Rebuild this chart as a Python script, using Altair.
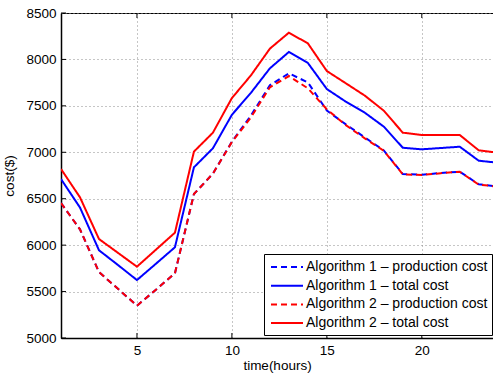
import altair as alt
import pandas as pd

hours = list(range(1, 25))

a1_prod = [6454, 6170, 5710, 5530, 5348, 5520, 5697, 6550, 6770, 7114, 7395, 7722, 7850, 7753,
           7450, 7300, 7160, 7020, 6766, 6758, 6777, 6791, 6655, 6632]
a1_total = [6712, 6405, 5945, 5786, 5624, 5800, 5977, 6838, 7043, 7404, 7640, 7904, 8080, 7962,
            7681, 7545, 7426, 7276, 7049, 7032, 7046, 7060, 6909, 6888]
a2_prod = [6454, 6170, 5710, 5530, 5348, 5520, 5697, 6550, 6770, 7110, 7375, 7700, 7821, 7689,
           7462, 7292, 7150, 7017, 6762, 6755, 6775, 6790, 6652, 6630]
a2_total = [6820, 6515, 6066, 5917, 5768, 5951, 6134, 7007, 7211, 7584, 7828, 8116, 8288, 8173,
            7875, 7743, 7610, 7448, 7211, 7186, 7186, 7186, 7021, 6996]

names = ["Algorithm 1 \u2013 production cost", "Algorithm 1 \u2013 total cost",
         "Algorithm 2 \u2013 production cost", "Algorithm 2 \u2013 total cost"]
colors = ["#0000ff", "#0000ff", "#ff0000", "#ff0000"]
dashes = [[6, 4], [1, 0], [6, 4], [1, 0]]

x_ticks = [5, 10, 15, 20]
y_ticks = [5000, 5500, 6000, 6500, 7000, 7500, 8000, 8500]

series = [a1_prod, a1_total, a2_prod, a2_total]
frames = []
for n, vals in zip(names, series):
    frames.append(pd.DataFrame({"hour": hours, "cost": vals, "series": n}))

FONT = "Liberation Sans"

xscale = alt.Scale(domain=[1, 23.75], nice=False, zero=False)
yscale = alt.Scale(domain=[5000, 8500], nice=False, zero=False)

xaxis = alt.Axis(values=x_ticks, title="time(hours)", grid=True, ticks=False,
                 labelPadding=5, titlePadding=2)
yaxis = alt.Axis(values=y_ticks, title="cost($)", grid=True, ticks=False, format="d",
                 labelPadding=5, titlePadding=9)

layers = []
for i, df in enumerate(frames):
    layers.append(
        alt.Chart(df).mark_line(strokeWidth=2, clip=True).encode(
            x=alt.X("hour:Q", scale=xscale, axis=xaxis),
            y=alt.Y("cost:Q", scale=yscale, axis=yaxis),
            color=alt.Color("series:N", scale=alt.Scale(domain=names, range=colors), title=None),
            strokeDash=alt.StrokeDash("series:N", scale=alt.Scale(domain=names, range=dashes), title=None),
        )
    )

xt = pd.DataFrame({"t": x_ticks})
yt = pd.DataFrame({"t": y_ticks})
tick_bottom = alt.Chart(xt).mark_rule(color="black", strokeWidth=1).encode(
    x=alt.X("t:Q", scale=xscale), y=alt.value(325), y2=alt.value(320))
tick_top = alt.Chart(xt).mark_rule(color="black", strokeWidth=1).encode(
    x=alt.X("t:Q", scale=xscale), y=alt.value(0), y2=alt.value(5))
tick_left = alt.Chart(yt).mark_rule(color="black", strokeWidth=1).encode(
    y=alt.Y("t:Q", scale=yscale), x=alt.value(0), x2=alt.value(5))

chart = alt.layer(tick_bottom, tick_top, tick_left, *layers).properties(
    width=432, height=325,
    autosize=alt.AutoSizeParams(type="none"),
    padding={"left": 61, "top": 13, "right": 0, "bottom": 39},
    background="white",
).configure_view(
    stroke="black", strokeWidth=1
).configure_axis(
    labelFont=FONT, titleFont=FONT, labelFontSize=13.5, titleFontSize=13.5,
    labelColor="black", titleColor="black", titleFontWeight="normal",
    domainColor="black", domainWidth=1.5,
    gridColor="#8c8c8c", gridDash=[1, 3], gridWidth=1,
).configure_legend(
    orient="none", legendX=203, legendY=241,
    fillColor="white", strokeColor="black", padding=4,
    labelFont=FONT, labelFontSize=14, labelColor="black", labelLimit=400,
    symbolType="M-2,0L2,0", symbolSize=256, symbolStrokeWidth=2,
    symbolOffset=10, labelOffset=10, rowPadding=2.7,
)

chart.save("out.html", embed_options={"renderer": "svg", "actions": False})
